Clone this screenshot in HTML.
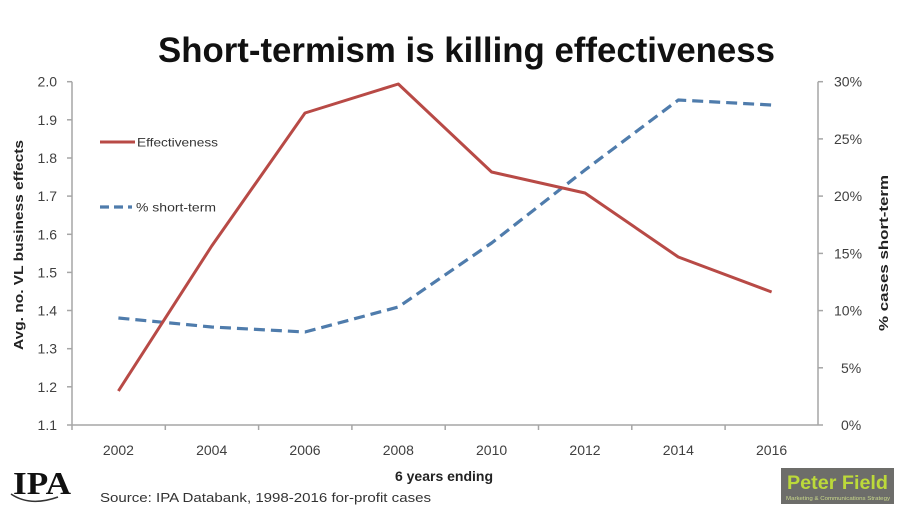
<!DOCTYPE html>
<html>
<head>
<meta charset="utf-8">
<style>
  html, body { margin:0; padding:0; background:#fff; }
  body { width:902px; height:510px; overflow:hidden; }
  svg { display:block; }
  text { font-family: "Liberation Sans", "DejaVu Sans", sans-serif; }
</style>
</head>
<body>
<svg width="902" height="510" viewBox="0 0 902 510" xmlns="http://www.w3.org/2000/svg">
  <rect width="902" height="510" fill="#fff"/>

  <!-- Title -->
  <text x="158" y="62" font-size="35" font-weight="bold" fill="#111" textLength="617" lengthAdjust="spacingAndGlyphs">Short-termism is killing effectiveness</text>

  <!-- Axes -->
  <g stroke="#a6a6a6" stroke-width="1.5" fill="none">
    <line x1="72" y1="81.7" x2="72" y2="425"/>
    <line x1="72" y1="425" x2="818" y2="425"/>
    <line x1="818" y1="81.7" x2="818" y2="425"/>
    <line x1="67" y1="81.7" x2="72" y2="81.7"/>
    <line x1="67" y1="119.8" x2="72" y2="119.8"/>
    <line x1="67" y1="158" x2="72" y2="158"/>
    <line x1="67" y1="196.1" x2="72" y2="196.1"/>
    <line x1="67" y1="234.3" x2="72" y2="234.3"/>
    <line x1="67" y1="272.4" x2="72" y2="272.4"/>
    <line x1="67" y1="310.5" x2="72" y2="310.5"/>
    <line x1="67" y1="348.7" x2="72" y2="348.7"/>
    <line x1="67" y1="386.8" x2="72" y2="386.8"/>
    <line x1="67" y1="425" x2="72" y2="425"/>
    <line x1="818" y1="81.7" x2="823" y2="81.7"/>
    <line x1="818" y1="138.9" x2="823" y2="138.9"/>
    <line x1="818" y1="196.1" x2="823" y2="196.1"/>
    <line x1="818" y1="253.4" x2="823" y2="253.4"/>
    <line x1="818" y1="310.6" x2="823" y2="310.6"/>
    <line x1="818" y1="367.8" x2="823" y2="367.8"/>
    <line x1="818" y1="425" x2="823" y2="425"/>
    <line x1="72" y1="425" x2="72" y2="430"/>
    <line x1="165.3" y1="425" x2="165.3" y2="430"/>
    <line x1="258.6" y1="425" x2="258.6" y2="430"/>
    <line x1="351.9" y1="425" x2="351.9" y2="430"/>
    <line x1="445.2" y1="425" x2="445.2" y2="430"/>
    <line x1="538.5" y1="425" x2="538.5" y2="430"/>
    <line x1="631.8" y1="425" x2="631.8" y2="430"/>
    <line x1="725.1" y1="425" x2="725.1" y2="430"/>
  </g>

  <!-- Left tick labels -->
  <g font-size="14" fill="#404040" text-anchor="end">
    <text x="57" y="86.7">2.0</text>
    <text x="57" y="124.8">1.9</text>
    <text x="57" y="163">1.8</text>
    <text x="57" y="201.1">1.7</text>
    <text x="57" y="239.3">1.6</text>
    <text x="57" y="277.4">1.5</text>
    <text x="57" y="315.5">1.4</text>
    <text x="57" y="353.7">1.3</text>
    <text x="57" y="391.8">1.2</text>
    <text x="57" y="430">1.1</text>
  </g>

  <!-- Right tick labels -->
  <g font-size="14" fill="#404040" text-anchor="start">
    <text x="834" y="86.7">30%</text>
    <text x="834" y="143.9">25%</text>
    <text x="834" y="201.1">20%</text>
    <text x="834" y="258.4">15%</text>
    <text x="834" y="315.6">10%</text>
    <text x="841" y="372.8">5%</text>
    <text x="841" y="430">0%</text>
  </g>

  <!-- X labels -->
  <g font-size="14" fill="#404040" text-anchor="middle">
    <text x="118.4" y="455">2002</text>
    <text x="211.7" y="455">2004</text>
    <text x="305" y="455">2006</text>
    <text x="398.3" y="455">2008</text>
    <text x="491.6" y="455">2010</text>
    <text x="585" y="455">2012</text>
    <text x="678.3" y="455">2014</text>
    <text x="771.6" y="455">2016</text>
  </g>
  <text x="444" y="481" font-size="14" font-weight="bold" fill="#222" text-anchor="middle">6 years ending</text>

  <!-- Axis titles -->
  <text transform="translate(23,245) rotate(-90)" font-size="13" font-weight="bold" fill="#222" text-anchor="middle" textLength="210" lengthAdjust="spacingAndGlyphs">Avg. no. VL business effects</text>
  <text transform="translate(888,253) rotate(-90)" font-size="13" font-weight="bold" fill="#222" text-anchor="middle" textLength="156" lengthAdjust="spacingAndGlyphs">% cases short-term</text>

  <!-- Series: % short-term -->
  <polyline fill="none" stroke="#4f7cac" stroke-width="3.2" stroke-dasharray="11,6" stroke-linejoin="round"
    points="118.4,318 211.7,327 305,332 398.3,307 491.6,243 585,170 678.3,100 771.6,105"/>

  <!-- Series: Effectiveness -->
  <polyline fill="none" stroke="#b84a46" stroke-width="3" stroke-linejoin="round"
    points="118.4,391 211.7,246 305,113 398.3,84 491.6,172 585,193 678.3,257 771.6,292"/>

  <!-- Legend -->
  <line x1="100" y1="142" x2="135" y2="142" stroke="#b84a46" stroke-width="3"/>
  <text x="137" y="146.5" font-size="12" fill="#333" textLength="81" lengthAdjust="spacingAndGlyphs">Effectiveness</text>
  <line x1="100" y1="207" x2="132" y2="207" stroke="#4f7cac" stroke-width="3.2" stroke-dasharray="9,5"/>
  <text x="136" y="211.5" font-size="12" fill="#333" textLength="80" lengthAdjust="spacingAndGlyphs">% short-term</text>

  <!-- Source -->
  <text x="100" y="502" font-size="13" fill="#333" textLength="331" lengthAdjust="spacingAndGlyphs">Source: IPA Databank, 1998-2016 for-profit cases</text>

  <!-- IPA logo -->
  <text x="13" y="494" style="font-family:'Liberation Serif', serif; font-weight:bold;" font-size="32" fill="#111" textLength="58" lengthAdjust="spacingAndGlyphs">IPA</text>
  <path d="M11,494 Q30,507 58,497" fill="none" stroke="#333" stroke-width="1.5"/>

  <!-- Peter Field logo -->
  <rect x="781" y="468" width="113" height="36" fill="#6d6d6a"/>
  <text x="787" y="489" font-size="19" font-weight="bold" fill="#bcd93a" textLength="101" lengthAdjust="spacingAndGlyphs">Peter Field</text>
  <text x="786" y="500" font-size="5" fill="#c9d98a" textLength="104" lengthAdjust="spacingAndGlyphs">Marketing &amp; Communications Strategy</text>
</svg>
</body>
</html>
